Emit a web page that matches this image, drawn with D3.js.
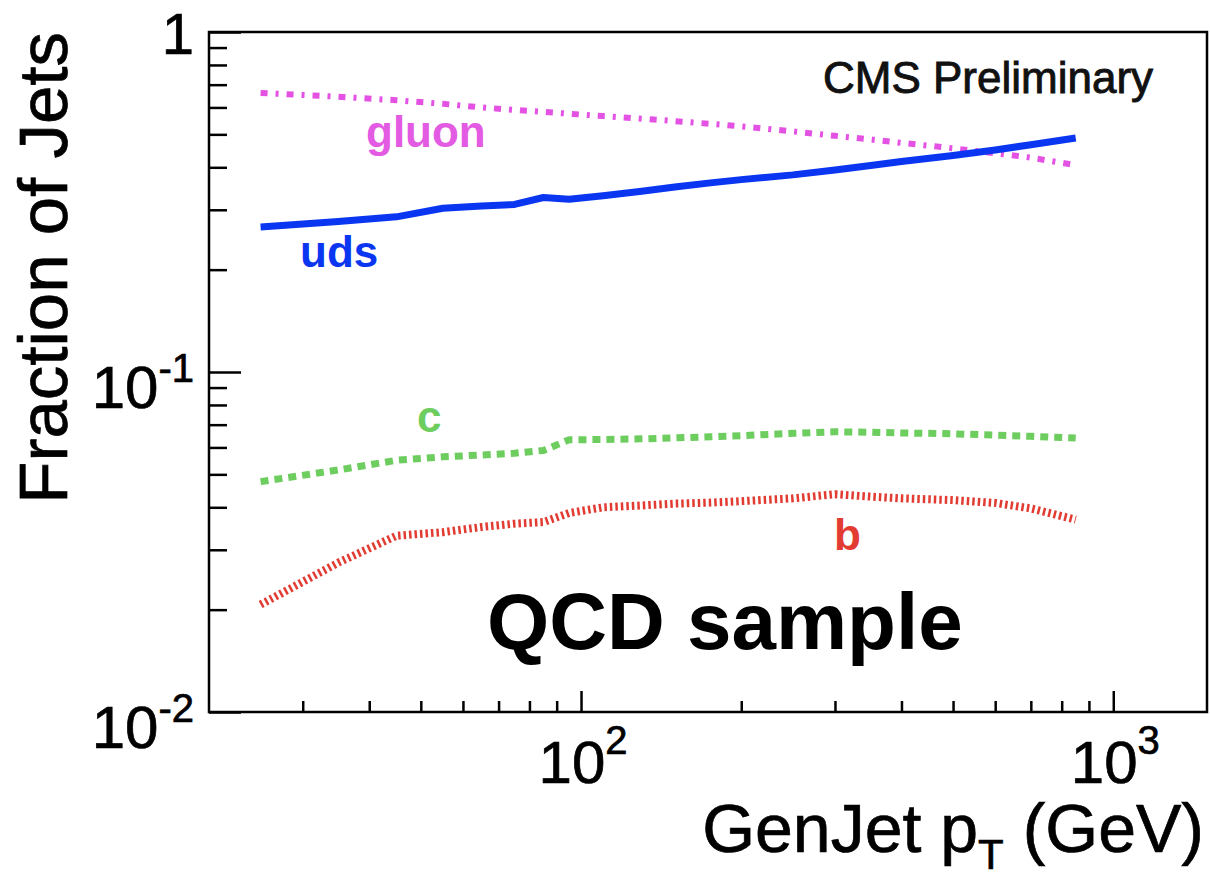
<!DOCTYPE html>
<html>
<head>
<meta charset="utf-8">
<script src="https://cdn.jsdelivr.net/npm/d3@7"></script>
<style>
  body { margin: 0; background: #fff; }
  svg { display: block; }
  text { font-family: "Liberation Sans", Arial, Helvetica, sans-serif; }
  .axis-text { fill: #000; stroke: #000; stroke-width: 0.7px; }
</style>
</head>
<body>
<div id="chart"></div>
<script>
// GenJet pT bin centres (GeV)
const pt = [25, 35, 45, 55, 65, 75, 85, 95, 110, 130, 150, 175, 200, 250, 300, 350, 400, 500, 600, 700, 850];

// jet flavour fractions
const fracGluon = [0.662, 0.645, 0.630, 0.615, 0.600, 0.590, 0.582, 0.575, 0.566, 0.556, 0.547, 0.537, 0.528, 0.510, 0.495, 0.483, 0.472, 0.455, 0.440, 0.427, 0.406];
const fracUds   = [0.267, 0.277, 0.286, 0.303, 0.308, 0.311, 0.326, 0.322, 0.330, 0.340, 0.350, 0.360, 0.368, 0.380, 0.393, 0.405, 0.416, 0.433, 0.450, 0.466, 0.488];
const fracC     = [0.0476, 0.0515, 0.0550, 0.0563, 0.0570, 0.0577, 0.0588, 0.0632, 0.0633, 0.0636, 0.0640, 0.0645, 0.0650, 0.0660, 0.0667, 0.0665, 0.0662, 0.0658, 0.0652, 0.0647, 0.0640];
const fracB     = [0.0207, 0.0275, 0.0330, 0.0338, 0.0350, 0.0358, 0.0362, 0.0385, 0.0400, 0.0405, 0.0410, 0.0413, 0.0417, 0.0425, 0.0437, 0.0430, 0.0425, 0.0420, 0.0412, 0.0397, 0.0368];

const xMajor = [100, 1000];
const xMajorExp = ["2", "3"];
const xMinor = [30, 40, 50, 60, 70, 80, 90, 200, 300, 400, 500, 600, 700, 800, 900];
const yMajor = [1, 0.1, 0.01];
const yMinor = [0.02, 0.03, 0.04, 0.05, 0.06, 0.07, 0.08, 0.09, 0.2, 0.3, 0.4, 0.5, 0.6, 0.7, 0.8, 0.9];

const svg = d3.select("#chart").append("svg")
  .attr("width", 1210)
  .attr("height", 880);

const frame = { left: 209, right: 1207, top: 32, bottom: 712 };
const x = d3.scaleLog().domain([20, 1500]).range([frame.left, frame.right]);
const y = d3.scaleLog().domain([0.01, 1]).range([frame.bottom, frame.top]);

// ticks (pointing into the frame)
function tickAxis(axis, tr) {
  const g = svg.append("g").attr("transform", tr).call(axis);
  g.select(".domain").remove();
  g.selectAll(".tick line").attr("stroke", "#000").attr("stroke-width", 2.5);
  g.selectAll(".tick text").remove();
}
tickAxis(d3.axisLeft(y).tickValues(yMinor).tickSize(-18), `translate(${frame.left},0)`);
tickAxis(d3.axisLeft(y).tickValues(yMajor).tickSize(-32), `translate(${frame.left},0)`);
tickAxis(d3.axisBottom(x).tickValues(xMinor).tickSize(-11), `translate(0,${frame.bottom})`);
tickAxis(d3.axisBottom(x).tickValues(xMajor).tickSize(-21), `translate(0,${frame.bottom})`);

// frame
svg.append("rect")
  .attr("x", frame.left).attr("y", frame.top)
  .attr("width", frame.right - frame.left).attr("height", frame.bottom - frame.top)
  .attr("fill", "none").attr("stroke", "#000").attr("stroke-width", 2.5);

// y tick labels
yMajor.forEach(v => {
  const t = svg.append("text").attr("class", "axis-text").attr("x", 194).attr("text-anchor", "end");
  if (v === 1) {
    t.attr("y", y(v) + 22).attr("font-size", 58).text("1");
  } else {
    const e = Math.round(Math.log10(v));
    t.attr("y", y(v) + 36);
    t.append("tspan").attr("font-size", 60).text("10");
    t.append("tspan").attr("font-size", 40).attr("dy", -26).text(String(e));
  }
});

// x tick labels
xMajor.forEach((v, i) => {
  const t = svg.append("text").attr("class", "axis-text").attr("x", x(v) + 2).attr("y", 783)
    .attr("text-anchor", "middle");
  t.append("tspan").attr("font-size", 60).text("10");
  t.append("tspan").attr("font-size", 40).attr("dy", -29).text(xMajorExp[i]);
});

// axis titles
const xt = svg.append("text").attr("class", "axis-text").attr("x", 1204).attr("y", 852)
  .attr("text-anchor", "end").attr("font-size", 68);
xt.append("tspan").text("GenJet p");
xt.append("tspan").attr("font-size", 42).attr("dy", 17).text("T");
xt.append("tspan").attr("dy", -17).text(" (GeV)");

svg.append("text").attr("class", "axis-text")
  .attr("transform", "translate(67,32) rotate(-90)")
  .attr("text-anchor", "end").attr("font-size", 69)
  .text("Fraction of Jets");

// curves
const series = [
  { name: "gluon", values: fracGluon, color: "#e452e4", width: 6, dash: "7,8,3,8" },
  { name: "uds", values: fracUds, color: "#0a36f2", width: 7, dash: null },
  { name: "c", values: fracC, color: "#6dcd5f", width: 7, dash: "8,6" },
  { name: "b", values: fracB, color: "#e23c32", width: 8, dash: "2.5,3" }
];

const line = d3.line()
  .x(d => x(d[0]))
  .y(d => y(d[1]));

series.forEach(s => {
  svg.append("path")
    .datum(pt.map((p, i) => [p, s.values[i]]))
    .attr("d", line)
    .attr("fill", "none")
    .attr("stroke", s.color)
    .attr("stroke-width", s.width)
    .attr("stroke-linejoin", "round")
    .attr("stroke-dasharray", s.dash);
});

// curve labels
const labels = [
  { text: "gluon", x: 366, y: 147, color: "#e35be3" },
  { text: "uds", x: 300, y: 267, color: "#0a36f2" },
  { text: "c", x: 417, y: 432, color: "#6dcd5f" },
  { text: "b", x: 834, y: 550, color: "#e23c32" }
];
labels.forEach(l => {
  svg.append("text").attr("x", l.x).attr("y", l.y)
    .attr("font-size", 44).attr("font-weight", "bold")
    .attr("fill", l.color).text(l.text);
});

svg.append("text").attr("x", 823).attr("y", 93)
  .attr("font-size", 44).attr("fill", "#111")
  .attr("stroke", "#111").attr("stroke-width", 0.9)
  .text("CMS Preliminary");

svg.append("text").attr("x", 487).attr("y", 649)
  .attr("font-size", 80).attr("font-weight", "bold").attr("fill", "#000")
  .text("QCD sample");
</script>
</body>
</html>
